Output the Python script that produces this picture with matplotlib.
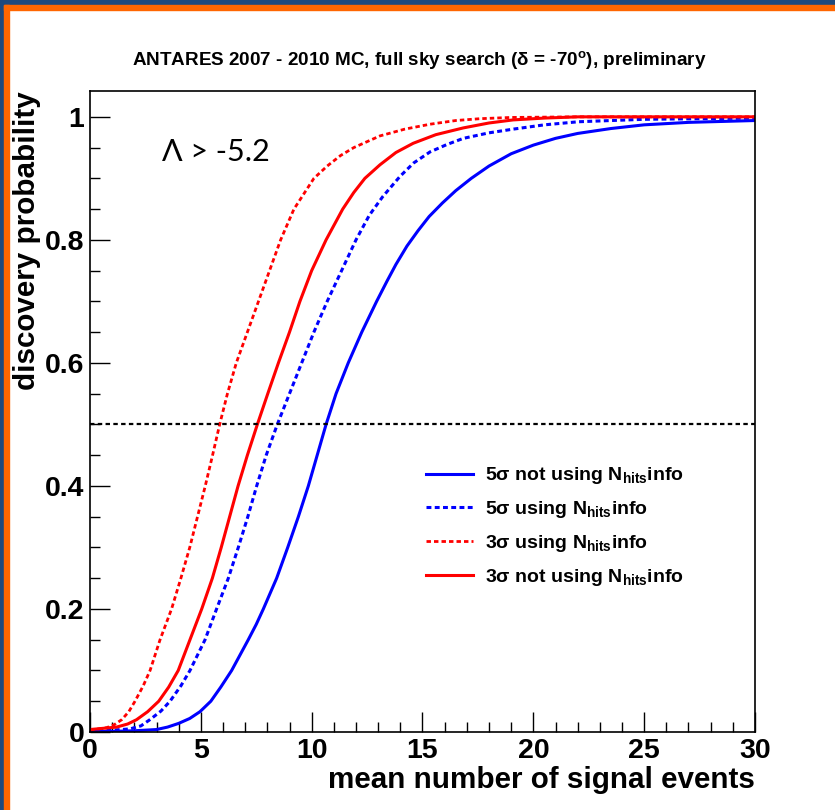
import matplotlib
matplotlib.use("Agg")
import matplotlib.pyplot as plt
from matplotlib.patches import Rectangle

plt.rcParams['font.family'] = ['Liberation Sans', 'DejaVu Sans']
plt.rcParams['font.weight'] = 'bold'
plt.rcParams['axes.labelweight'] = 'bold'
plt.rcParams['mathtext.fontset'] = 'custom'
plt.rcParams['mathtext.rm'] = 'Liberation Sans:bold'
plt.rcParams['mathtext.it'] = 'Liberation Sans:bold'
plt.rcParams['mathtext.bf'] = 'Liberation Sans:bold'

# data
x_5s_nohits = [0, 1, 2, 3, 3.5, 4, 4.5, 4.96, 5.45, 5.9, 6.39, 6.75, 7.14, 7.5, 7.82,
               8.12, 8.42, 8.92, 9.40, 9.85, 10.25, 10.65, 11.1, 11.65, 12.26, 12.93,
               13.4, 13.8, 14.3, 14.8, 15.3, 15.9, 16.5, 17.2, 18.0, 19.0, 20.0, 21.0,
               22.0, 23.5, 25.0, 27.0, 30.0]
p_5s_nohits = [0.001, 0.001, 0.002, 0.004, 0.008, 0.014, 0.022, 0.033, 0.05, 0.073, 0.10,
               0.124, 0.15, 0.175, 0.20, 0.225, 0.25, 0.30, 0.35, 0.40, 0.45, 0.50, 0.55,
               0.60, 0.65, 0.70, 0.733, 0.76, 0.79, 0.815, 0.838, 0.86, 0.88, 0.90, 0.92,
               0.94, 0.954, 0.965, 0.973, 0.981, 0.987, 0.991, 0.994]

x_5s_hits = [0, 1, 1.8, 2.3, 2.7, 3.2, 3.61, 4.1, 4.51, 4.85, 5.19, 5.71, 6.24, 6.69,
             7.12, 7.52, 7.95, 8.45, 9.0, 9.55, 10.1, 10.7, 11.35, 12.0, 12.6, 13.2,
             13.98, 14.6, 15.34, 16.1, 16.84, 18.0, 19.09, 20.5, 22.03, 25.0, 30.0]
p_5s_hits = [0.002, 0.003, 0.005, 0.01, 0.02, 0.034, 0.05, 0.075, 0.10, 0.125, 0.15, 0.20,
             0.25, 0.30, 0.35, 0.40, 0.45, 0.50, 0.55, 0.60, 0.65, 0.70, 0.75, 0.80, 0.84,
             0.87, 0.903, 0.925, 0.943, 0.955, 0.965, 0.974, 0.98, 0.987, 0.992, 0.996,
             0.998]

x_3s_hits = [0, 0.75, 1.1, 1.43, 1.75, 2.03, 2.4, 2.71, 3.16, 3.68, 4.1, 4.5, 4.85, 5.2,
             5.53, 5.85, 6.2, 6.6, 7.1, 7.6, 8.1, 8.6, 9.2, 9.65, 10.1, 10.7, 11.3, 11.9,
             13.08, 14.2, 15.34, 16.5, 17.6, 19.0, 22.0, 30.0]
p_3s_hits = [0.003, 0.007, 0.012, 0.02, 0.033, 0.05, 0.075, 0.10, 0.15, 0.20, 0.25, 0.30,
             0.35, 0.40, 0.45, 0.50, 0.55, 0.60, 0.65, 0.70, 0.75, 0.80, 0.85, 0.875, 0.90,
             0.92, 0.937, 0.95, 0.969, 0.98, 0.988, 0.994, 0.997, 0.999, 1.0, 1.0]

x_3s_nohits = [0, 1.2, 1.7, 2.1, 2.6, 3.1, 3.55, 3.98, 4.51, 5.04, 5.52, 5.92, 6.3, 6.68,
               7.1, 7.55, 8.02, 8.5, 9.0, 9.47, 10.0, 10.65, 11.4, 11.9, 12.4, 13.08, 13.8,
               14.58, 15.6, 16.84, 18.0, 19.09, 20.5, 22.03, 30.0]
p_3s_nohits = [0.004, 0.008, 0.013, 0.02, 0.033, 0.05, 0.073, 0.10, 0.15, 0.20, 0.25, 0.30,
               0.35, 0.40, 0.45, 0.50, 0.55, 0.60, 0.65, 0.70, 0.75, 0.80, 0.85, 0.877,
               0.90, 0.922, 0.942, 0.957, 0.971, 0.982, 0.99, 0.995, 0.998, 1.0, 1.0]

labels = [r"5$\sigma$ not using N$_{\rm hits}$info",
          r"5$\sigma$ using N$_{\rm hits}$info",
          r"3$\sigma$ using N$_{\rm hits}$info",
          r"3$\sigma$ not using N$_{\rm hits}$info"]

fig = plt.figure(figsize=(8.35, 8.10), dpi=100)
W, H = 835.0, 810.0

# slide frame (blue + orange bands)
fig.patches.append(Rectangle((0, 1 - 5 / H), 1, 5 / H, transform=fig.transFigure,
                             color='#1F497D', zorder=0))
fig.patches.append(Rectangle((0, 0), 4 / W, 1, transform=fig.transFigure,
                             color='#1F497D', zorder=0))
fig.patches.append(Rectangle((4 / W, 1 - 10 / H), 1, 5 / H, transform=fig.transFigure,
                             color='#FF6600', zorder=0))
fig.patches.append(Rectangle((4 / W, 0), 5 / W, 1 - 5 / H, transform=fig.transFigure,
                             color='#FF6600', zorder=0))

ax = fig.add_axes([90 / W, 1 - 732 / H, 665 / W, 641 / H])

ax.plot(x_5s_nohits, p_5s_nohits, color='#0000FF', lw=2.2, label=labels[0])
ax.plot(x_5s_hits, p_5s_hits, color='#0000FF', lw=2.2, ls=(0, (1.6, 1.1)), label=labels[1])
ax.plot(x_3s_hits, p_3s_hits, color='#FF0000', lw=2.0, ls=(0, (1.6, 1.1)), label=labels[2])
ax.plot(x_3s_nohits, p_3s_nohits, color='#FF0000', lw=2.2, label=labels[3])
ax.axhline(0.5, color='black', lw=1.6, ls=(0, (2, 1.5)))

ax.set_xlim(0, 30)
ax.set_ylim(0, 1.042)
ax.set_xticks([0, 5, 10, 15, 20, 25, 30])
ax.set_xticks(range(0, 31), minor=True)
ax.set_yticks([0, 0.2, 0.4, 0.6, 0.8, 1])
ax.set_yticks([i * 0.05 for i in range(21)], minor=True)
ax.set_yticklabels(['0', '0.2', '0.4', '0.6', '0.8', '1'])
ax.tick_params(which='both', direction='in', top=False, right=False, width=1)
ax.tick_params(which='major', length=14.5, labelsize=20.5, pad=4)
ax.tick_params(which='minor', length=7.2)
for s in ax.spines.values():
    s.set_linewidth(1.2)

ax.set_xlabel('mean number of signal events', fontsize=21.3, loc='right', labelpad=2)
ax.set_ylabel('discovery probability', fontsize=21.3, loc='top', labelpad=3)

fig.text(419 / W, 1 - 60 / H,
         r"ANTARES 2007 - 2010 MC, full sky search ($\delta$ = -70$^{\rm o}$), preliminary",
         ha='center', va='center', fontsize=13.6)

fig.text(162 / W, 1 - 152 / H, "Λ > -5.2", family=['Lato', 'DejaVu Sans'],
         fontweight='normal', fontsize=22, ha='left', va='center')

ax.legend(loc='upper left', bbox_to_anchor=(0.505, 0.416), frameon=False, fontsize=14,
          handlelength=2.45, handletextpad=0.6, labelspacing=0.66, borderaxespad=0,
          borderpad=0)

fig.savefig('out.png', dpi=100)
